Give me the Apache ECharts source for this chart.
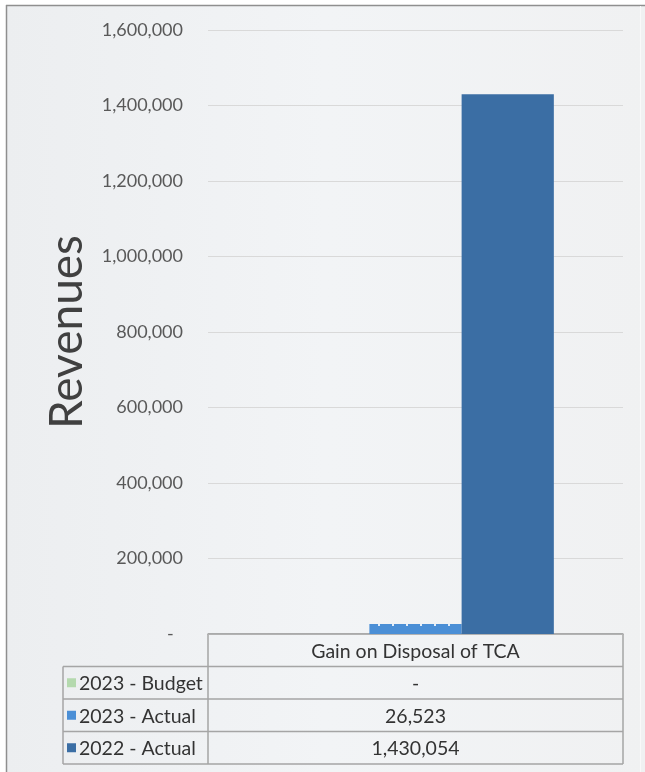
<!DOCTYPE html>
<html>
<head>
<meta charset="utf-8">
<script src="https://cdn.jsdelivr.net/npm/echarts@6/dist/echarts.min.js"></script>
<style>
  html, body { margin: 0; padding: 0; background: #ffffff; overflow: hidden; }
  #chart { width: 645px; height: 772px; }
</style>
</head>
<body>
<div id="chart"></div>
<script>
// Revenue comparison for one line item, with a data table beneath the plot
const categories = ['Gain on Disposal of TCA'];
const seriesNames = ['2023 - Budget', '2023 - Actual', '2022 - Actual'];
const budget2023 = [0];
const actual2023 = [26523];
const actual2022 = [1430054];
const yTicks = [0, 200000, 400000, 600000, 800000, 1000000, 1200000, 1400000, 1600000];

const seriesValues = [budget2023, actual2023, actual2022];
const seriesColors = ['#b4d9ae', '#4b8fd6', '#3b6ea4'];

const FONT = 'Lato';
const TEXT = '#595959';
const TABLE_TEXT = '#333333';
const LINE = '#a5a5a5';

const fmt = v => (v === 0 ? '-' : v.toLocaleString('en-US'));

// layout of plot area / table
const gridLeft = 208, gridRight = 623, gridTop = 30, gridBottom = 634;
const tableLeft = 63, rowH = 32.5;

const chart = echarts.init(document.getElementById('chart'), null, { renderer: 'canvas' });

const graphics = [];
// frame background and the thin border on left / top
graphics.push({
  type: 'rect', z: -10, silent: true,
  shape: { x: 6, y: 5, width: 639, height: 767 },
  style: {
    fill: new echarts.graphic.LinearGradient(0, 0, 1, 0, [
      { offset: 0, color: '#eceef0' },
      { offset: 0.5, color: '#f2f4f6' },
      { offset: 1, color: '#f0f1f2' }
    ])
  }
});
graphics.push({ type: 'line', silent: true, shape: { x1: 6.5, y1: 5, x2: 6.5, y2: 772 }, style: { stroke: '#8f8f8f', lineWidth: 1.5 } });
graphics.push({ type: 'line', silent: true, shape: { x1: 6, y1: 5.5, x2: 645, y2: 5.5 }, style: { stroke: '#8f8f8f', lineWidth: 1.5 } });
graphics.push({ type: 'line', silent: true, shape: { x1: 640.5, y1: 6, x2: 640.5, y2: 772 }, style: { stroke: '#f9f9f9', lineWidth: 1 } });

// data table: header row holds the category names
const headerTop = gridBottom;
const tableBottom = headerTop + rowH * (seriesNames.length + 1);
const bandW = (gridRight - gridLeft) / categories.length;
const lineStyle = { stroke: LINE, lineWidth: 1.5 };
const cellFont = '19.5px ' + FONT;

graphics.push({ type: 'line', silent: true, shape: { x1: gridLeft, y1: headerTop, x2: gridRight, y2: headerTop }, style: lineStyle });
graphics.push({ type: 'line', silent: true, shape: { x1: gridLeft, y1: headerTop, x2: gridLeft, y2: tableBottom }, style: lineStyle });
graphics.push({ type: 'line', silent: true, shape: { x1: gridRight, y1: headerTop, x2: gridRight, y2: tableBottom }, style: lineStyle });
graphics.push({ type: 'line', silent: true, shape: { x1: tableLeft, y1: headerTop + rowH, x2: tableLeft, y2: tableBottom }, style: lineStyle });
for (let r = 1; r <= seriesNames.length + 1; r++) {
  const y = headerTop + rowH * r;
  graphics.push({ type: 'line', silent: true, shape: { x1: tableLeft, y1: y, x2: gridRight, y2: y }, style: lineStyle });
}
categories.forEach((c, ci) => {
  const cx = gridLeft + bandW * (ci + 0.5);
  graphics.push({
    type: 'text', silent: true, x: cx, y: headerTop + rowH / 2 + 1,
    style: { text: c, font: cellFont, fill: TABLE_TEXT, align: 'center', verticalAlign: 'middle' }
  });
  seriesNames.forEach((s, si) => {
    graphics.push({
      type: 'text', silent: true, x: cx, y: headerTop + rowH * (si + 1.5) + 1,
      style: { text: fmt(seriesValues[si][ci]), font: cellFont, fill: TABLE_TEXT, align: 'center', verticalAlign: 'middle' }
    });
  });
});
// row headers with legend keys
seriesNames.forEach((s, si) => {
  const cy = headerTop + rowH * (si + 1.5);
  graphics.push({
    type: 'rect', silent: true,
    shape: { x: tableLeft + 4, y: cy - 4.5, width: 9, height: 9 },
    style: { fill: seriesColors[si] }
  });
  graphics.push({
    type: 'text', silent: true, x: tableLeft + 16, y: cy + 1,
    style: { text: s, font: cellFont, fill: TABLE_TEXT, align: 'left', verticalAlign: 'middle' }
  });
});

const option = {
  backgroundColor: '#ffffff',
  animation: false,
  textStyle: { fontFamily: FONT },
  grid: { left: gridLeft, right: 645 - gridRight, top: gridTop, bottom: 772 - gridBottom, containLabel: false },
  xAxis: {
    type: 'category',
    data: categories,
    axisLine: { show: true, lineStyle: { color: LINE, width: 1.5 } },
    axisTick: { show: false },
    axisLabel: { show: false }
  },
  yAxis: {
    type: 'value',
    min: yTicks[0],
    max: yTicks[yTicks.length - 1],
    interval: yTicks[1] - yTicks[0],
    name: 'Revenues',
    nameLocation: 'middle',
    nameGap: 118,
    nameRotate: 90,
    nameTextStyle: { fontSize: 46, color: '#404040', fontFamily: FONT },
    axisLine: { show: false },
    axisTick: { show: false },
    splitLine: { show: true, lineStyle: { color: '#d9d9d9', width: 1 } },
    axisLabel: {
      margin: 25,
      fontSize: 18,
      color: TEXT,
      fontFamily: FONT,
      formatter: v => (v === 0 ? '-  ' : v.toLocaleString('en-US'))
    }
  },
  series: seriesNames.map((name, i) => ({
    name,
    type: 'bar',
    data: seriesValues[i],
    barGap: '0%',
    barCategoryGap: '33.33%',
    itemStyle: Object.assign(
      { color: seriesColors[i] },
      i === 1 ? {
        decal: {
          symbol: 'rect',
          color: 'rgba(255,255,255,0.85)',
          dashArrayX: [2, 12],
          dashArrayY: [2, 10],
          symbolSize: 1,
          rotation: 0
        }
      } : {}
    )
  })),
  graphic: graphics
};

chart.setOption(option);
</script>
</body>
</html>
